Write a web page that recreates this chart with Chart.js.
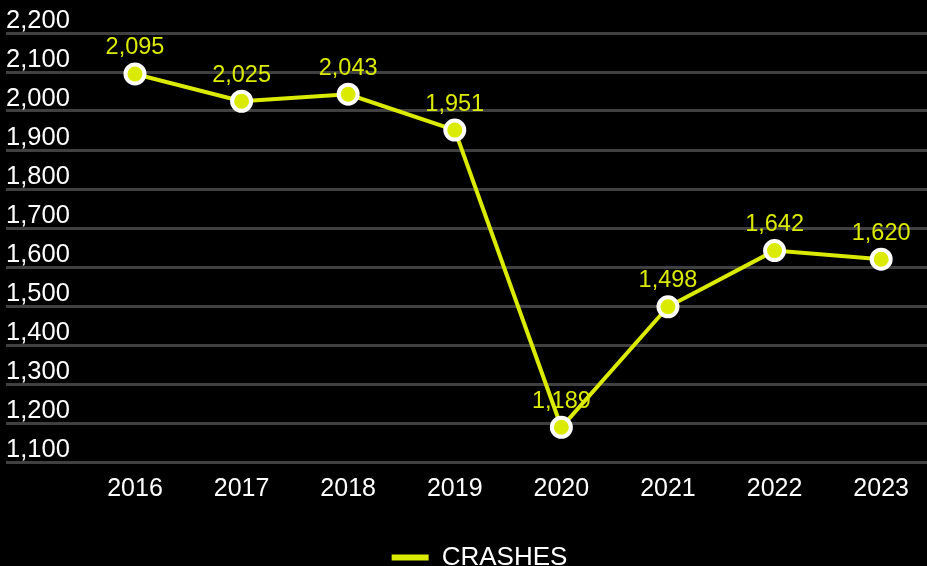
<!DOCTYPE html>
<html>
<head>
<meta charset="utf-8">
<script src="https://cdn.jsdelivr.net/npm/chart.js@4/dist/chart.umd.min.js"></script>
<style>
  html, body { margin: 0; padding: 0; background: #000; }
  #wrap { width: 927px; height: 566px; position: relative; }
</style>
</head>
<body>
<div id="wrap"><canvas id="crashChart"></canvas></div>
<script>
// data
const years = [2016, 2017, 2018, 2019, 2020, 2021, 2022, 2023];
const crashes = [2095, 2025, 2043, 1951, 1189, 1498, 1642, 1620];
const seriesName = 'CRASHES';

const yellow = '#dbeb00';
const font = 'Liberation Sans, Arial, sans-serif';

// draws the value above each point
const valueLabels = {
    id: 'valueLabels',
    afterLayout(chart) {
        // legend sits a bit right of centre in the original
        chart.legend.left += 13;
        chart.legend.right += 13;
    },
    afterDatasetsDraw(chart) {
        const ctx = chart.ctx;
        const meta = chart.getDatasetMeta(0);
        ctx.save();
        ctx.font = '23.5px ' + font;
        ctx.fillStyle = yellow;
        ctx.textAlign = 'center';
        ctx.textBaseline = 'middle';
        meta.data.forEach(function (pt, i) {
            ctx.fillText(crashes[i].toLocaleString('en-US'), pt.x, pt.y - 26);
        });
        ctx.restore();
    }
};

let myChart = document.getElementById('crashChart').getContext('2d');

let crashChart = new Chart(myChart, {
    type: 'line',
    data: {
        datasets: [{
            label: seriesName,
            data: years.map((y, i) => ({ x: y, y: crashes[i] })),
            borderColor: yellow,
            backgroundColor: yellow,
            borderWidth: 4,
            pointRadius: 9.5,
            pointBorderWidth: 4,
            pointBackgroundColor: yellow,
            pointBorderColor: '#ffffff',
            tension: 0
        }]
    },
    options: {
        responsive: true,
        maintainAspectRatio: false,
        animation: false,
        layout: { autoPadding: false, padding: { left: 6, right: 0, top: 33, bottom: -14.5 } },
        plugins: {
            tooltip: { enabled: false },
            legend: {
                position: 'bottom',
                labels: {
                    color: '#ffffff',
                    font: { size: 26, family: font },
                    boxWidth: 37,
                    boxHeight: 6,
                    padding: 28.5,
                    generateLabels: function () {
                        return [{ text: seriesName, fillStyle: yellow, strokeStyle: yellow, fontColor: '#ffffff', lineWidth: 0, datasetIndex: 0 }];
                    }
                }
            }
        },
        scales: {
            x: {
                type: 'linear',
                min: 2014.79,
                max: 2023.43,
                afterBuildTicks: function (scale) {
                    scale.ticks = years.map(v => ({ value: v }));
                },
                grid: { display: false, drawTicks: false },
                border: { display: false },
                ticks: {
                    color: '#ffffff',
                    font: { size: 25, family: font },
                    padding: 12,
                    maxRotation: 0,
                    callback: v => String(v)
                }
            },
            y: {
                min: 1100,
                max: 2200,
                grid: { color: '#404040', lineWidth: 3, drawTicks: false },
                border: { display: false },
                ticks: {
                    stepSize: 100,
                    mirror: true,
                    padding: 0,
                    labelOffset: -12,
                    color: '#ffffff',
                    font: { size: 25.5, family: font },
                    callback: v => v.toLocaleString('en-US')
                }
            }
        }
    },
    plugins: [valueLabels]
});
</script>
</body>
</html>
